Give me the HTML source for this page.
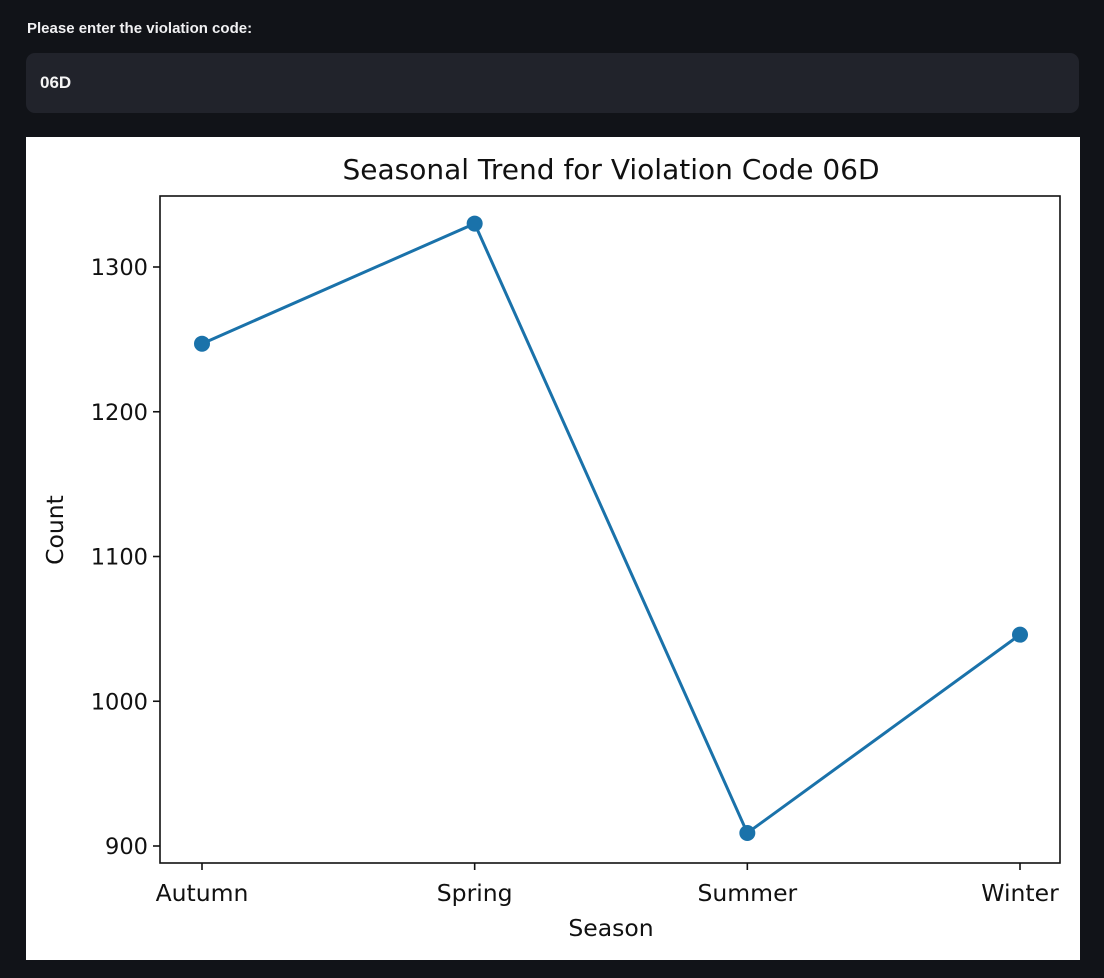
<!DOCTYPE html>
<html><head><meta charset="utf-8"><style>
html,body{margin:0;padding:0;background:#111318;width:1104px;height:978px;overflow:hidden;font-family:"Liberation Sans",sans-serif}
#label{position:absolute;left:27px;top:20px;color:#f0f0f2;font-size:15px;font-weight:bold}
#inp{position:absolute;left:26px;top:53px;width:1053px;height:60px;background:#21232b;border-radius:9px;color:#f5f5f5;font-size:17px;font-weight:bold;line-height:60px;padding-left:14px;box-sizing:border-box}
#chart{position:absolute;left:26px;top:137px;width:1054px;height:823px;background:#fff}
</style></head><body>
<div id="label">Please enter the violation code:</div>
<div id="inp">06D</div>
<svg id="chart" width="1054" height="823" viewBox="26 137 1054 823" font-family="DejaVu Sans, sans-serif"></svg>
<script>
const categories=["Autumn","Spring","Summer","Winter"];
const counts=[1247,1330,909,1046];
const yTicks=[900,1000,1100,1200,1300];
const NS="http://www.w3.org/2000/svg";
const svg=document.getElementById('chart');
const L=160,R=1060,T=196,B=863;
const x0=202,x1=1020;
function xs(i){return x0+i*(x1-x0)/(categories.length-1);}
function ys(v){return 846-(v-900)*1.4475;}
function mk(tag,a,txt){const e=document.createElementNS(NS,tag);for(const k in a)e.setAttribute(k,a[k]);if(txt!==undefined)e.textContent=txt;svg.appendChild(e);return e;}
let e=mk('text',{x:611,y:179,'text-anchor':'middle','font-size':28,fill:'#111'},'Seasonal Trend for Violation Code 06D');


e=mk('rect',{x:L,y:T,width:R-L,height:B-T,fill:'none',stroke:'#111','stroke-width':1.6});


yTicks.forEach(v=>{const y=ys(v);
 let t=mk('line',{x1:L-7,x2:L,y1:y,y2:y,stroke:'#111','stroke-width':1.6});
 
 
 t=mk('text',{x:L-12,y:y+8,'text-anchor':'end','font-size':22.5,fill:'#111'},String(v));
 
 
});
categories.forEach((c,i)=>{const x=xs(i);
 let t=mk('line',{x1:x,x2:x,y1:B,y2:B+7,stroke:'#111','stroke-width':1.6});
 
 
 t=mk('text',{x:x,y:901,'text-anchor':'middle','font-size':23.5,fill:'#111'},c);
 
 
});
e=mk('text',{x:611,y:936,'text-anchor':'middle','font-size':23.5,fill:'#111'},'Season');


e=mk('text',{x:63,y:530,'text-anchor':'middle','font-size':23.5,fill:'#111',transform:'rotate(-90 63 530)'},'Count');


e=mk('polyline',{points:counts.map((v,i)=>xs(i)+','+ys(v)).join(' '),fill:'none',stroke:'#1a72aa','stroke-width':3});


counts.forEach((v,i)=>{const p=mk('circle',{cx:xs(i),cy:ys(v),r:8,fill:'#1a72aa'});
 
 
});
</script>
</body></html>
